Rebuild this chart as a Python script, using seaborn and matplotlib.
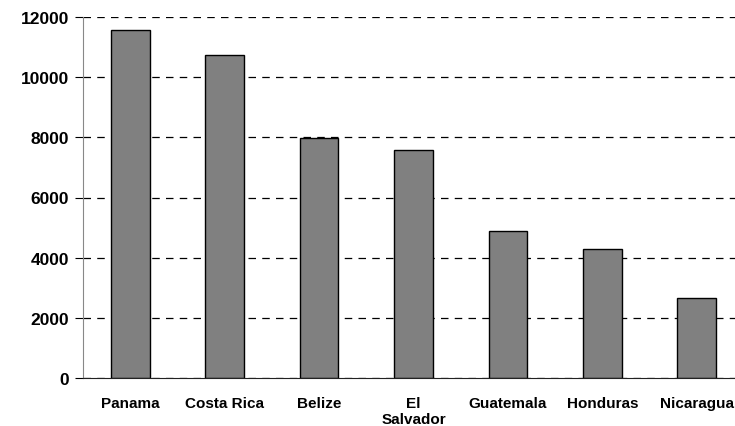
import pandas as pd
import seaborn as sns
import matplotlib.pyplot as plt

# values
countries = ['Panama', 'Costa Rica', 'Belize', 'El\nSalvador', 'Guatemala', 'Honduras', 'Nicaragua']
values = [11570, 10750, 7970, 7580, 4880, 4280, 2670]
yticks = [0, 2000, 4000, 6000, 8000, 10000, 12000]

df = pd.DataFrame({'country': countries, 'value': values})

sns.set_style('white')
plt.rcParams['font.family'] = ['Liberation Sans', 'DejaVu Sans']

fig = plt.figure(figsize=(7.35, 4.27), dpi=100)
ax = fig.add_axes([83 / 735, 48 / 427, 661 / 735, 361 / 427])

ax.yaxis.grid(True, linestyle=(0, (6, 5)), color='black', linewidth=0.9)
ax.set_axisbelow(True)

sns.barplot(data=df, x='country', y='value', color='#808080', saturation=1,
            edgecolor='black', linewidth=1, width=0.41, ax=ax)

ax.set_ylim(0, 12000)
ax.set_xlim(-0.5, len(countries) - 0.5)
ax.set_yticks(yticks)
ax.set_yticklabels([str(v) for v in yticks], fontsize=12.5, fontweight='bold', color='black')
ax.set_xticks(range(len(countries)))
ax.set_xticklabels(countries, fontsize=11, fontweight='bold', color='black', linespacing=1.15)
ax.set_xlabel('')
ax.set_ylabel('')

# tick marks between categories on x, outward ticks on y
ax.set_xticks([i - 0.5 for i in range(len(countries))], minor=True)
ax.tick_params(axis='x', which='major', length=0, pad=13)
ax.tick_params(axis='x', which='minor', length=5, width=0.8, direction='out', color='#555555')
ax.tick_params(axis='y', length=6, width=0.8, direction='out', color='black', pad=4, left=True)

for side in ['top', 'right']:
    ax.spines[side].set_visible(False)
ax.spines['left'].set_color('#888888')
ax.spines['bottom'].set_color('#222222')

plt.savefig('out.png', dpi=100)
